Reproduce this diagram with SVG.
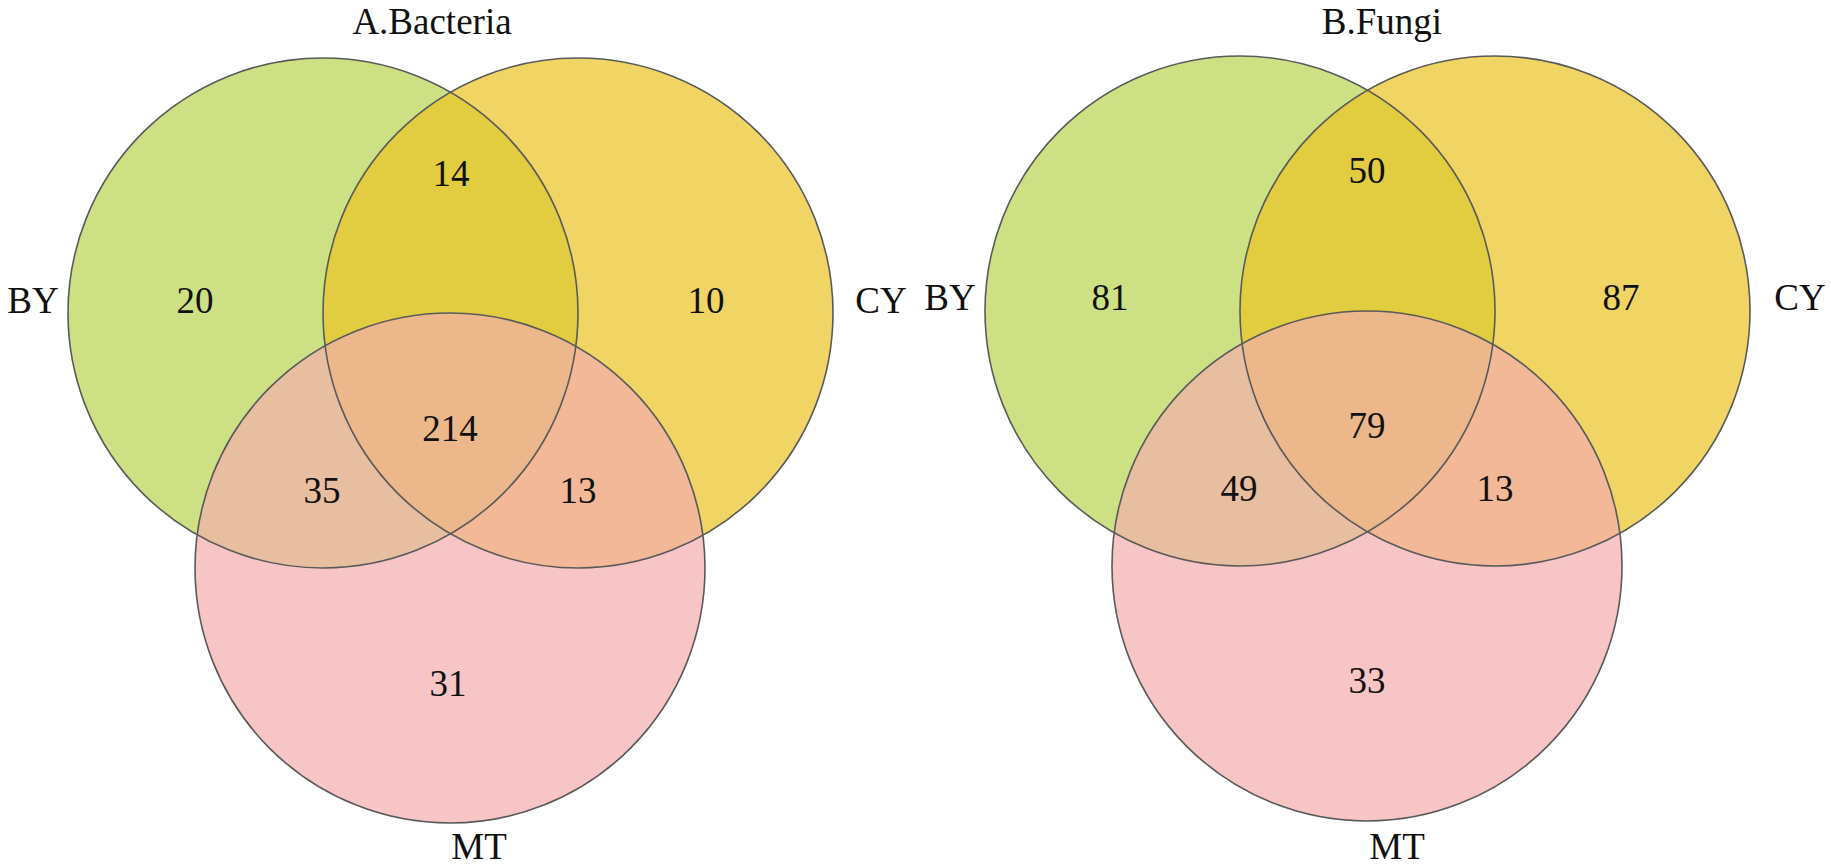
<svg xmlns="http://www.w3.org/2000/svg" width="1831" height="865" viewBox="0 0 1831 865">
<style>
.t{font-family:"Liberation Serif","Times New Roman",serif;font-size:37px;fill:#111;text-anchor:middle}
.o{fill:none;stroke:#5a5a5a;stroke-width:1.6}
.g{fill:#cde184}.y{fill:#f0d564}.p{fill:#f7c5c6}
.gy{fill:#e2cc3f}.gp{fill:#e8bea1}.yp{fill:#f3b898}.gyp{fill:#ebb78b}
</style>
<defs>
<clipPath id="cG1"><circle cx="323" cy="313" r="255"/></clipPath>
<clipPath id="cY1"><circle cx="578" cy="313" r="255"/></clipPath>
<clipPath id="cG2"><circle cx="1240" cy="311" r="255"/></clipPath>
<clipPath id="cY2"><circle cx="1495" cy="311" r="255"/></clipPath>
</defs>
<rect width="1831" height="865" fill="#fff"/>
<g id="venn-a">
<g id="a-fills">
<circle class="g" cx="323" cy="313" r="255"/>
<circle class="y" cx="578" cy="313" r="255"/>
<circle class="p" cx="450" cy="568" r="255"/>
<circle class="gy" cx="578" cy="313" r="255" clip-path="url(#cG1)"/>
<circle class="gp" cx="450" cy="568" r="255" clip-path="url(#cG1)"/>
<circle class="yp" cx="450" cy="568" r="255" clip-path="url(#cY1)"/>
<g clip-path="url(#cG1)"><circle class="gyp" cx="450" cy="568" r="255" clip-path="url(#cY1)"/></g>
</g>
<g id="a-outlines">
<circle class="o" cx="323" cy="313" r="255"/>
<circle class="o" cx="578" cy="313" r="255"/>
<circle class="o" cx="450" cy="568" r="255"/>
</g>
<text class="t" x="432" y="34">A.Bacteria</text>
<text class="t" x="33" y="313">BY</text>
<text class="t" x="881" y="313">CY</text>
<text class="t" x="479" y="859">MT</text>
<text class="t" x="451" y="186">14</text>
<text class="t" x="195" y="313">20</text>
<text class="t" x="706" y="313">10</text>
<text class="t" x="450" y="441">214</text>
<text class="t" x="322" y="503">35</text>
<text class="t" x="578" y="503">13</text>
<text class="t" x="448" y="696">31</text>
</g>
<g id="venn-b">
<g id="b-fills">
<circle class="g" cx="1240" cy="311" r="255"/>
<circle class="y" cx="1495" cy="311" r="255"/>
<circle class="p" cx="1367" cy="566" r="255"/>
<circle class="gy" cx="1495" cy="311" r="255" clip-path="url(#cG2)"/>
<circle class="gp" cx="1367" cy="566" r="255" clip-path="url(#cG2)"/>
<circle class="yp" cx="1367" cy="566" r="255" clip-path="url(#cY2)"/>
<g clip-path="url(#cG2)"><circle class="gyp" cx="1367" cy="566" r="255" clip-path="url(#cY2)"/></g>
</g>
<g id="b-outlines">
<circle class="o" cx="1240" cy="311" r="255"/>
<circle class="o" cx="1495" cy="311" r="255"/>
<circle class="o" cx="1367" cy="566" r="255"/>
</g>
<text class="t" x="1382" y="34">B.Fungi</text>
<text class="t" x="950" y="310">BY</text>
<text class="t" x="1800" y="310">CY</text>
<text class="t" x="1397" y="859">MT</text>
<text class="t" x="1367" y="183">50</text>
<text class="t" x="1110" y="310">81</text>
<text class="t" x="1621" y="310">87</text>
<text class="t" x="1367" y="438">79</text>
<text class="t" x="1239" y="501">49</text>
<text class="t" x="1495" y="501">13</text>
<text class="t" x="1367" y="693">33</text>
</g>
</svg>
